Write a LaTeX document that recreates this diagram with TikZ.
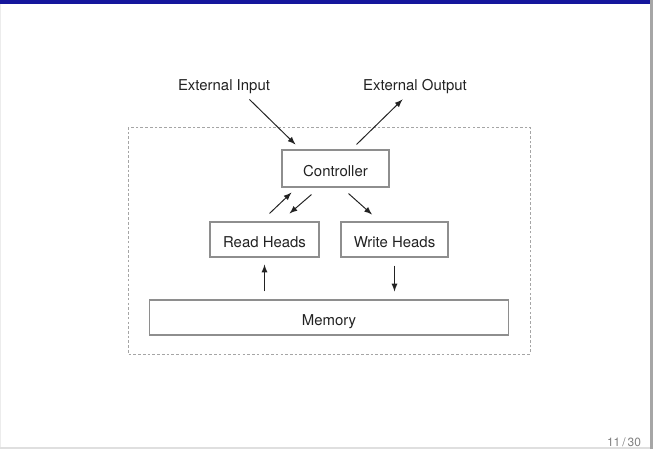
\documentclass[tikz,border=0pt]{standalone}
\usepackage{fontspec}
\setmainfont{TeX Gyre Heros}
\usetikzlibrary{calc}
\definecolor{slideblue}{HTML}{15169C}
\definecolor{boxgray}{HTML}{8E8E8E}
\definecolor{txtgray}{HTML}{222222}
\begin{document}
\begin{tikzpicture}[x=0.02cm,y=-0.02cm,>=latex,
		every node/.style={text=txtgray,font=\fontsize{8.5}{10}\selectfont,text height=1.05em,text depth=0.18em},
		box/.style={draw=boxgray,line width=0.6pt,inner sep=0pt},
		arr/.style={->,draw=txtgray,line width=0.55pt},
		frame/.style={draw=boxgray!80,line width=0.5pt,dash pattern=on 1.5pt off 1.2pt}]
		
		% slide background
		\fill[white] (0,0) rectangle (653,449);
		\fill[slideblue] (0,0) rectangle (653,4);
		\fill[gray!70] (650,0) rectangle (653,449);
		\fill[gray!25] (0,447) rectangle (650,449);
		\fill[gray!15] (0,4) rectangle (1,447);
		
		\node (in)  at (224,83) {External Input};
		\node (out) at (415,83) {External Output};
		\draw[frame] (128,127) rectangle (530,354);
		
		\node[box,minimum width=2.14cm,minimum height=0.74cm] (ctrl)  at (335.5,168.5) {Controller};
		\node[box,minimum width=2.18cm,minimum height=0.70cm] (read)  at (264.5,239.5) {Read Heads};
		\node[box,minimum width=2.14cm,minimum height=0.70cm] (write) at (394.5,239.5) {Write Heads};
		\node[box,minimum width=7.20cm,minimum height=0.70cm] (mem)   at (329,317.5) {Memory};
		
		\draw[arr] ($(ctrl.north west)+(-32,-50)$) -- ($(ctrl.north west)+(14,-5)$);
		\draw[arr] ($(ctrl.north east)+(-33,-5)$) -- ($(ctrl.north east)+(13,-50)$);
		\draw[arr] ($(read.north)+(5,-8)$) -- ($(ctrl.south west)+(10,5)$);
		\draw[arr] ($(ctrl.south west)+(30,7)$) -- ($(read.north)+(25,-8)$);
		\draw[arr] ($(ctrl.south)+(13,6)$) -- ($(write.north)+(-22.5,-7)$);
		\draw[arr] ($(mem.north -| read.south)+(0,-8)$) -- ($(read.south)+(0,7)$);
		\draw[arr] ($(write.south)+(0,8)$) -- ($(mem.north -| write.south)+(0,-8)$);
		
		\node[text=gray,font=\fontsize{6.8}{8}\selectfont,text height=0.7em,text depth=0pt] (page) at (624,440) {11\,/\,30};
		\end{tikzpicture}
\end{document}
